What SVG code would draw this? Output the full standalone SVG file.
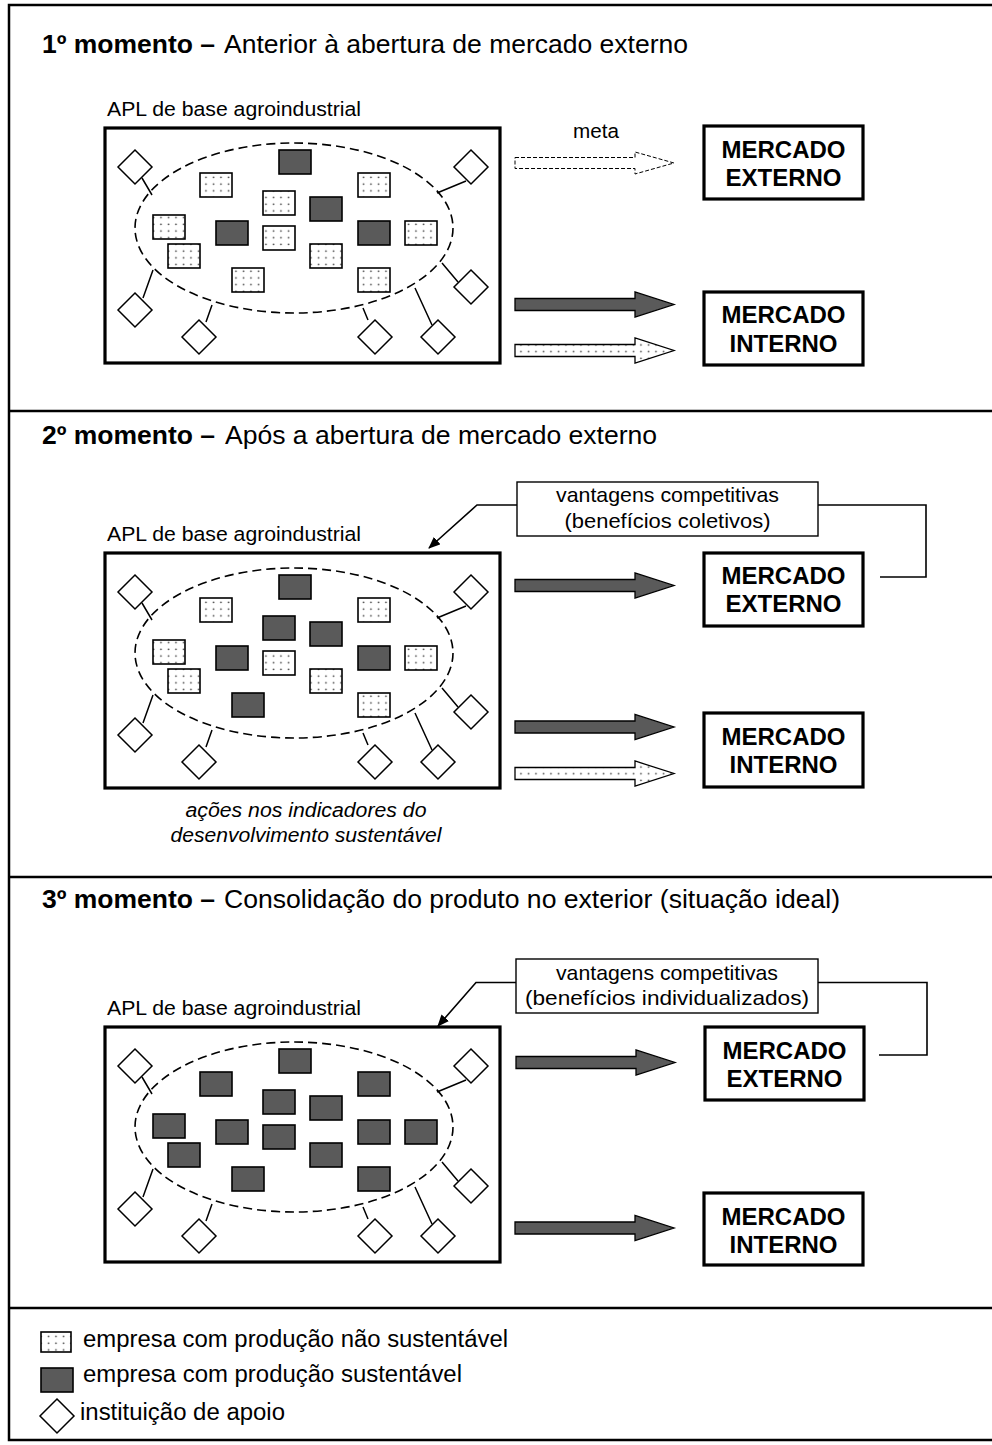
<svg xmlns="http://www.w3.org/2000/svg" width="992" height="1445" viewBox="0 0 992 1445">
<defs>
<pattern id="dots" width="7.5" height="6.7" patternUnits="userSpaceOnUse">
<rect width="7.5" height="6.7" fill="#ffffff"/>
<circle cx="3.5" cy="3.2" r="0.9" fill="#444"/>
</pattern>
<marker id="ah" viewBox="0 0 12 10" refX="11" refY="5" markerWidth="12" markerHeight="10" markerUnits="userSpaceOnUse" orient="auto">
<path d="M0,0 L12,5 L0,10 Z" fill="#000"/>
</marker>
<style>
.frame{fill:none;stroke:#000;stroke-width:2.5}
.apl{fill:#fff;stroke:#000;stroke-width:3.2}
.ell{fill:none;stroke:#000;stroke-width:1.6;stroke-dasharray:9,5}
.ns{fill:url(#dots);stroke:#000;stroke-width:1.6}
.s{fill:#5a5a5a;stroke:#000;stroke-width:1.6}
.dia{fill:#fff;stroke:#000;stroke-width:1.5}
.lk{stroke:#000;stroke-width:1.5;fill:none}
.mk{fill:#fff;stroke:#000;stroke-width:3.2}
.mt{font-family:"Liberation Sans",Arial,sans-serif;font-weight:bold;font-size:23.5px;text-anchor:middle;fill:#000}
.ttl{font-family:"Liberation Sans",Arial,sans-serif;font-size:26px;fill:#000}
.b{font-weight:bold}
.lbl{font-family:"Liberation Sans",Arial,sans-serif;font-size:20.5px;fill:#000}
.cb{fill:#fff;stroke:#000;stroke-width:1.4}
.ct{font-family:"Liberation Sans",Arial,sans-serif;font-size:21px;text-anchor:middle;fill:#000}
.it{font-family:"Liberation Sans",Arial,sans-serif;font-size:20.5px;font-style:italic;text-anchor:middle;fill:#000}
.lg{font-family:"Liberation Sans",Arial,sans-serif;font-size:23.5px;fill:#000}
.adark{fill:#5a5a5a;stroke:#000;stroke-width:1.3}
.adot{fill:url(#dots);stroke:#000;stroke-width:1.3}
.ameta{fill:#fff;stroke:#000;stroke-width:1;stroke-dasharray:4,2}
.con{fill:none;stroke:#000;stroke-width:1.6}
</style>
</defs>
<rect width="992" height="1445" fill="#fff"/>

<g id="frame">
<path class="frame" d="M992,5 H9 V1440 H992"/>
<line class="frame" x1="9" y1="411" x2="992" y2="411"/>
<line class="frame" x1="9" y1="877" x2="992" y2="877"/>
<line class="frame" x1="9" y1="1308" x2="992" y2="1308"/>
</g>

<g id="titles">
<text class="ttl b" x="42" y="53" textLength="173" lengthAdjust="spacingAndGlyphs">1º momento –</text>
<text class="ttl" x="224" y="53" textLength="464" lengthAdjust="spacingAndGlyphs">Anterior à abertura de mercado externo</text>
<text class="ttl b" x="42" y="444" textLength="173" lengthAdjust="spacingAndGlyphs">2º momento –</text>
<text class="ttl" x="225" y="444" textLength="432" lengthAdjust="spacingAndGlyphs">Após a abertura de mercado externo</text>
<text class="ttl b" x="42" y="908" textLength="173" lengthAdjust="spacingAndGlyphs">3º momento –</text>
<text class="ttl" x="224" y="908" textLength="616" lengthAdjust="spacingAndGlyphs">Consolidação do produto no exterior (situação ideal)</text>
</g>

<!-- Panel 1 APL -->
<g id="apl1">
<text class="lbl" x="107" y="116" textLength="254" lengthAdjust="spacingAndGlyphs">APL de base agroindustrial</text>
<rect class="apl" x="105" y="128" width="395" height="235"/>
<ellipse class="ell" cx="294" cy="228" rx="159" ry="85"/>
<rect class="s" x="279" y="150" width="32" height="24"/>
<rect class="ns" x="200" y="173" width="32" height="24"/>
<rect class="ns" x="358" y="173" width="32" height="24"/>
<rect class="ns" x="263" y="191" width="32" height="24"/>
<rect class="s" x="310" y="197" width="32" height="24"/>
<rect class="ns" x="153" y="215" width="32" height="24"/>
<rect class="s" x="216" y="221" width="32" height="24"/>
<rect class="ns" x="263" y="226" width="32" height="24"/>
<rect class="s" x="358" y="221" width="32" height="24"/>
<rect class="ns" x="405" y="221" width="32" height="24"/>
<rect class="ns" x="168" y="244" width="32" height="24"/>
<rect class="ns" x="310" y="244" width="32" height="24"/>
<rect class="ns" x="232" y="268" width="32" height="24"/>
<rect class="ns" x="358" y="268" width="32" height="24"/>
<path class="lk" d="M142,178 L152,195 M466,181 L437,193 M458,282 L442,263 M143,298 L153,270 M206,322 L212,305 M368,320 L363,308 M432,325 L415,288"/>
<path class="dia" d="M135,150 L152,167 L135,184 L118,167 Z"/>
<path class="dia" d="M471,150 L488,167 L471,184 L454,167 Z"/>
<path class="dia" d="M471,270 L488,287 L471,304 L454,287 Z"/>
<path class="dia" d="M135,293 L152,310 L135,327 L118,310 Z"/>
<path class="dia" d="M199,320 L216,337 L199,354 L182,337 Z"/>
<path class="dia" d="M375,320 L392,337 L375,354 L358,337 Z"/>
<path class="dia" d="M438,320 L455,337 L438,354 L421,337 Z"/>
</g>

<!-- Panel 2 APL -->
<g id="apl2" transform="translate(0,425)">
<text class="lbl" x="107" y="116" textLength="254" lengthAdjust="spacingAndGlyphs">APL de base agroindustrial</text>
<rect class="apl" x="105" y="128" width="395" height="235"/>
<ellipse class="ell" cx="294" cy="228" rx="159" ry="85"/>
<rect class="s" x="279" y="150" width="32" height="24"/>
<rect class="ns" x="200" y="173" width="32" height="24"/>
<rect class="ns" x="358" y="173" width="32" height="24"/>
<rect class="s" x="263" y="191" width="32" height="24"/>
<rect class="s" x="310" y="197" width="32" height="24"/>
<rect class="ns" x="153" y="215" width="32" height="24"/>
<rect class="s" x="216" y="221" width="32" height="24"/>
<rect class="ns" x="263" y="226" width="32" height="24"/>
<rect class="s" x="358" y="221" width="32" height="24"/>
<rect class="ns" x="405" y="221" width="32" height="24"/>
<rect class="ns" x="168" y="244" width="32" height="24"/>
<rect class="ns" x="310" y="244" width="32" height="24"/>
<rect class="s" x="232" y="268" width="32" height="24"/>
<rect class="ns" x="358" y="268" width="32" height="24"/>
<path class="lk" d="M142,178 L152,195 M466,181 L437,193 M458,282 L442,263 M143,298 L153,270 M206,322 L212,305 M368,320 L363,308 M432,325 L415,288"/>
<path class="dia" d="M135,150 L152,167 L135,184 L118,167 Z"/>
<path class="dia" d="M471,150 L488,167 L471,184 L454,167 Z"/>
<path class="dia" d="M471,270 L488,287 L471,304 L454,287 Z"/>
<path class="dia" d="M135,293 L152,310 L135,327 L118,310 Z"/>
<path class="dia" d="M199,320 L216,337 L199,354 L182,337 Z"/>
<path class="dia" d="M375,320 L392,337 L375,354 L358,337 Z"/>
<path class="dia" d="M438,320 L455,337 L438,354 L421,337 Z"/>
</g>
<g id="acoes">
<text class="it" x="306" y="817" textLength="241" lengthAdjust="spacingAndGlyphs">ações nos indicadores do</text>
<text class="it" x="306" y="842" textLength="271" lengthAdjust="spacingAndGlyphs">desenvolvimento sustentável</text>
</g>

<!-- Panel 3 APL -->
<g id="apl3" transform="translate(0,899)">
<text class="lbl" x="107" y="116" textLength="254" lengthAdjust="spacingAndGlyphs">APL de base agroindustrial</text>
<rect class="apl" x="105" y="128" width="395" height="235"/>
<ellipse class="ell" cx="294" cy="228" rx="159" ry="85"/>
<rect class="s" x="279" y="150" width="32" height="24"/>
<rect class="s" x="200" y="173" width="32" height="24"/>
<rect class="s" x="358" y="173" width="32" height="24"/>
<rect class="s" x="263" y="191" width="32" height="24"/>
<rect class="s" x="310" y="197" width="32" height="24"/>
<rect class="s" x="153" y="215" width="32" height="24"/>
<rect class="s" x="216" y="221" width="32" height="24"/>
<rect class="s" x="263" y="226" width="32" height="24"/>
<rect class="s" x="358" y="221" width="32" height="24"/>
<rect class="s" x="405" y="221" width="32" height="24"/>
<rect class="s" x="168" y="244" width="32" height="24"/>
<rect class="s" x="310" y="244" width="32" height="24"/>
<rect class="s" x="232" y="268" width="32" height="24"/>
<rect class="s" x="358" y="268" width="32" height="24"/>
<path class="lk" d="M142,178 L152,195 M466,181 L437,193 M458,282 L442,263 M143,298 L153,270 M206,322 L212,305 M368,320 L363,308 M432,325 L415,288"/>
<path class="dia" d="M135,150 L152,167 L135,184 L118,167 Z"/>
<path class="dia" d="M471,150 L488,167 L471,184 L454,167 Z"/>
<path class="dia" d="M471,270 L488,287 L471,304 L454,287 Z"/>
<path class="dia" d="M135,293 L152,310 L135,327 L118,310 Z"/>
<path class="dia" d="M199,320 L216,337 L199,354 L182,337 Z"/>
<path class="dia" d="M375,320 L392,337 L375,354 L358,337 Z"/>
<path class="dia" d="M438,320 L455,337 L438,354 L421,337 Z"/>
</g>

<!-- Market boxes -->
<g id="mext1"><rect class="mk" x="704" y="126" width="159" height="73"/>
<text class="mt" x="783.5" y="158" textLength="124" lengthAdjust="spacingAndGlyphs">MERCADO</text>
<text class="mt" x="783.5" y="186" textLength="116" lengthAdjust="spacingAndGlyphs">EXTERNO</text></g>
<g id="mint1"><rect class="mk" x="704" y="292" width="159" height="73"/>
<text class="mt" x="783.5" y="323" textLength="124" lengthAdjust="spacingAndGlyphs">MERCADO</text>
<text class="mt" x="783.5" y="352" textLength="108" lengthAdjust="spacingAndGlyphs">INTERNO</text></g>
<g id="mext2"><rect class="mk" x="704" y="553" width="159" height="73"/>
<text class="mt" x="783.5" y="584" textLength="124" lengthAdjust="spacingAndGlyphs">MERCADO</text>
<text class="mt" x="783.5" y="612" textLength="116" lengthAdjust="spacingAndGlyphs">EXTERNO</text></g>
<g id="mint2"><rect class="mk" x="704" y="713" width="159" height="74"/>
<text class="mt" x="783.5" y="745" textLength="124" lengthAdjust="spacingAndGlyphs">MERCADO</text>
<text class="mt" x="783.5" y="773" textLength="108" lengthAdjust="spacingAndGlyphs">INTERNO</text></g>
<g id="mext3"><rect class="mk" x="705" y="1027" width="159" height="73"/>
<text class="mt" x="784.5" y="1059" textLength="124" lengthAdjust="spacingAndGlyphs">MERCADO</text>
<text class="mt" x="784.5" y="1087" textLength="116" lengthAdjust="spacingAndGlyphs">EXTERNO</text></g>
<g id="mint3"><rect class="mk" x="704" y="1193" width="159" height="72"/>
<text class="mt" x="783.5" y="1225" textLength="124" lengthAdjust="spacingAndGlyphs">MERCADO</text>
<text class="mt" x="783.5" y="1253" textLength="108" lengthAdjust="spacingAndGlyphs">INTERNO</text></g>

<!-- Callouts -->
<g id="callout2"><rect class="cb" x="517" y="482" width="301" height="54"/>
<text class="ct" x="667.5" y="502" textLength="223" lengthAdjust="spacingAndGlyphs">vantagens competitivas</text>
<text class="ct" x="667.5" y="528" textLength="206" lengthAdjust="spacingAndGlyphs">(benefícios coletivos)</text></g>
<g id="callout3"><rect class="cb" x="516" y="959" width="302" height="54"/>
<text class="ct" x="667" y="979.5" textLength="222" lengthAdjust="spacingAndGlyphs">vantagens competitivas</text>
<text class="ct" x="667" y="1005" textLength="284" lengthAdjust="spacingAndGlyphs">(benefícios individualizados)</text></g>

<!-- Connectors -->
<g id="connectors">
<text class="lbl" x="596" y="138" font-size="19px" text-anchor="middle" textLength="46" lengthAdjust="spacingAndGlyphs">meta</text>
<polygon class="ameta" points="515,157.5 635,157.5 635,152 674,163 635,174 635,168.5 515,168.5"/>
<polygon class="adark" points="515,298.5 635,298.5 635,292 674,304.5 635,317 635,310.5 515,310.5"/>
<polygon class="adot" points="515,344.5 635,344.5 635,338 674,350.5 635,363 635,356.5 515,356.5"/>
<polygon class="adark" points="515,579.5 635,579.5 635,573 674,585.5 635,598 635,591.5 515,591.5"/>
<polygon class="adark" points="515,721 635,721 635,714.5 674,727 635,739.5 635,733 515,733"/>
<polygon class="adot" points="515,767.5 635,767.5 635,761 674,773.5 635,786 635,779.5 515,779.5"/>
<polygon class="adark" points="516,1056.5 636,1056.5 636,1050 675,1062.5 636,1075 636,1068.5 516,1068.5"/>
<polygon class="adark" points="515,1222 635,1222 635,1215.5 674,1228 635,1240.5 635,1234 515,1234"/>
<path class="con" d="M517,505 H477 L429,548" marker-end="url(#ah)"/>
<path class="con" d="M818,505 H926 V577 H880"/>
<path class="con" d="M516,982.5 H476 L438,1026" marker-end="url(#ah)"/>
<path class="con" d="M818,982.5 H927 V1055 H879"/>
</g>

<!-- Legend -->
<g id="legend">
<rect class="ns" x="41" y="1332" width="30" height="20"/>
<text class="lg" x="83" y="1347" textLength="425" lengthAdjust="spacingAndGlyphs">empresa com produção não sustentável</text>
<rect class="s" x="41" y="1368" width="32" height="24"/>
<text class="lg" x="83" y="1382" textLength="379" lengthAdjust="spacingAndGlyphs">empresa com produção sustentável</text>
<path class="dia" d="M57,1399 L74,1416 L57,1433 L40,1416 Z"/>
<text class="lg" x="80" y="1420" textLength="205" lengthAdjust="spacingAndGlyphs">instituição de apoio</text>
</g>
</svg>
